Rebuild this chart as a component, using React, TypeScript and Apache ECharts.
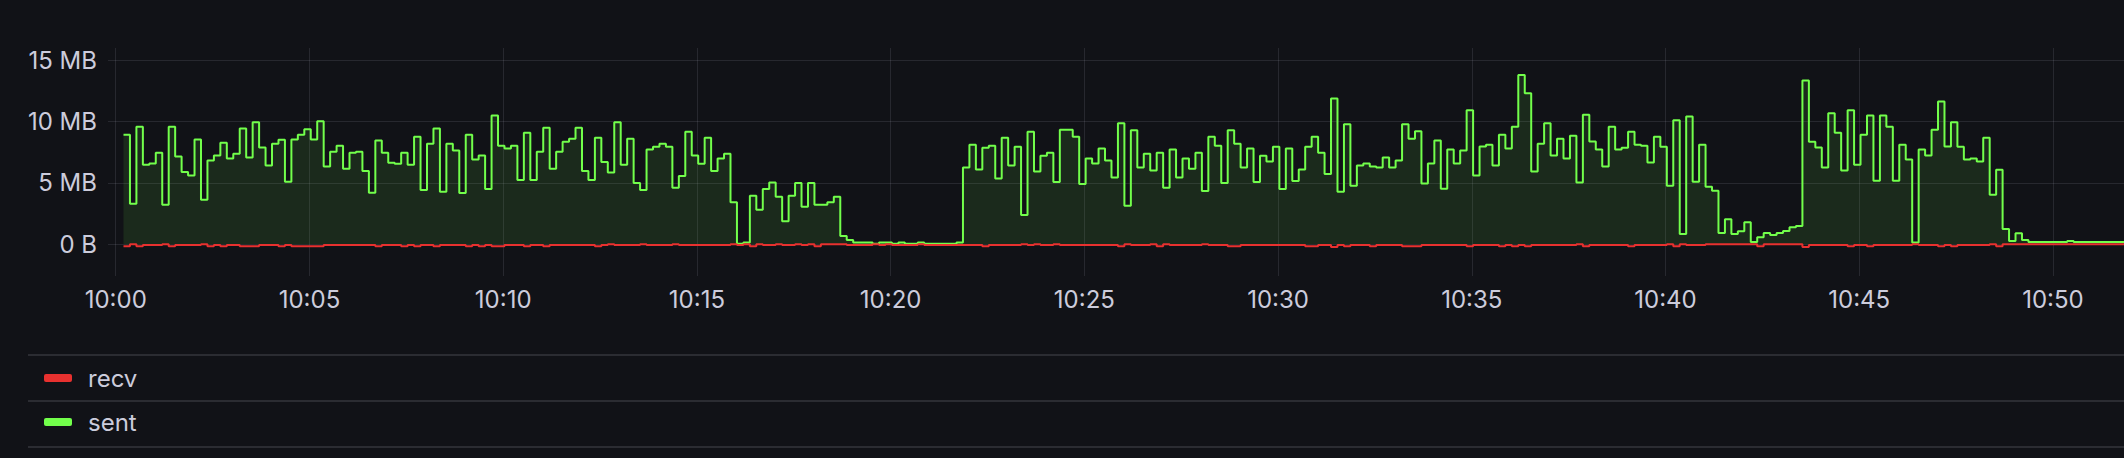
import { useEffect, useRef } from "react";
import * as echarts from "echarts";

// Samples every 10 s, the first one at 10:00:12 (seconds after 10:00:00)
const FIRST_SAMPLE_SECONDS = 12;
const SAMPLE_STEP_SECONDS = 10;

// sent, in MB
const sentValues: number[] = [
  8.93, 3.31, 9.59, 6.48, 6.58, 7.46, 3.22, 9.59, 7.16, 5.90,
  5.60, 8.55, 3.63, 6.83, 7.24, 8.28, 6.99, 7.38, 9.43, 7.08,
  9.95, 7.90, 6.42, 8.20, 8.52, 5.11, 8.55, 8.93, 9.37, 8.55,
  10.03, 6.34, 7.54, 8.03, 6.17, 7.46, 7.54, 5.98, 4.21, 8.47,
  7.46, 6.64, 6.56, 7.46, 6.48, 8.77, 4.43, 8.20, 9.43, 4.29,
  8.20, 7.65, 4.18, 8.93, 6.91, 7.24, 4.51, 10.49, 8.03, 7.81,
  8.03, 5.25, 9.10, 5.25, 7.54, 9.51, 6.15, 7.54, 8.36, 8.61,
  9.51, 5.98, 5.25, 8.69, 6.72, 5.85, 9.95, 6.48, 8.61, 5.00,
  4.43, 7.73, 7.95, 8.20, 7.95, 4.62, 5.57, 9.18, 7.24, 6.56,
  8.69, 5.98, 6.99, 7.38, 3.44, 0.05, 0.16, 3.96, 2.81, 4.51,
  5.03, 3.88, 1.89, 3.96, 5.00, 3.06, 5.00, 3.22, 3.22, 3.44,
  3.88, 0.68, 0.36, 0.14, 0.14, 0.14, 0.05, 0.14, 0.14, 0.05,
  0.14, 0.05, 0.05, 0.14, 0.05, 0.05, 0.05, 0.05, 0.05, 0.14,
  6.26, 8.11, 6.09, 7.87, 8.03, 5.36, 8.69, 6.42, 7.95, 2.40,
  9.18, 5.93, 7.21, 7.46, 5.08, 9.34, 9.34, 8.77, 4.92, 6.99,
  6.58, 7.81, 6.83, 5.44, 9.86, 3.14, 9.29, 6.26, 7.38, 6.01,
  7.46, 4.62, 7.73, 5.44, 6.99, 6.17, 7.46, 4.34, 8.77, 8.03,
  5.00, 9.29, 8.20, 6.26, 7.81, 5.08, 7.21, 6.75, 7.95, 4.51,
  7.81, 5.16, 6.09, 7.95, 8.77, 7.46, 5.74, 11.89, 4.29, 9.78,
  4.78, 6.42, 6.58, 6.34, 6.26, 7.08, 6.26, 6.83, 9.78, 8.61,
  9.21, 4.95, 6.58, 8.47, 4.54, 7.73, 6.58, 7.65, 10.93, 5.60,
  7.98, 8.11, 6.42, 8.93, 7.81, 9.59, 13.80, 12.32, 5.93, 8.20,
  9.86, 7.24, 8.61, 6.99, 8.85, 5.03, 10.57, 8.39, 7.73, 6.34,
  9.59, 7.73, 7.87, 9.18, 8.11, 8.03, 6.67, 8.77, 7.95, 4.78,
  10.11, 0.85, 10.41, 5.11, 8.11, 4.70, 4.37, 0.93, 2.05, 0.85,
  1.07, 1.80, 0.19, 0.57, 0.93, 0.77, 0.93, 1.09, 1.39, 1.50,
  13.36, 8.36, 7.90, 6.26, 10.68, 9.10, 6.01, 10.93, 6.48, 8.93,
  10.49, 5.19, 10.49, 9.59, 5.19, 8.11, 6.91, 0.16, 7.73, 7.24,
  9.34, 11.64, 7.98, 9.95, 7.95, 6.91, 6.99, 6.75, 8.69, 4.04,
  6.07, 1.26, 0.27, 0.90, 0.36, 0.19, 0.19, 0.19, 0.19, 0.19,
  0.19, 0.27, 0.19, 0.19, 0.19, 0.19, 0.19, 0.19, 0.19, 0.19,
  0.19, 0.19,
];

// recv, in MB (hugging zero)
const recvValues: number[] = [
  -0.15, 0.01, -0.15, -0.06, -0.06, -0.06, 0.01, -0.15, -0.06, -0.06,
  -0.06, -0.06, 0.01, -0.15, -0.06, -0.15, -0.06, -0.06, -0.15, -0.15,
  -0.15, -0.06, -0.06, -0.06, -0.15, -0.06, -0.15, -0.15, -0.15, -0.15,
  -0.15, -0.06, -0.06, -0.06, -0.06, -0.06, -0.06, -0.06, -0.06, -0.15,
  -0.06, -0.06, -0.06, -0.15, -0.06, -0.15, -0.06, -0.06, -0.15, -0.06,
  -0.06, -0.06, -0.06, -0.15, -0.06, -0.15, -0.06, -0.15, -0.15, -0.06,
  -0.06, -0.06, -0.15, -0.06, -0.06, -0.15, -0.06, -0.06, -0.06, -0.06,
  -0.06, -0.06, -0.06, -0.15, -0.06, 0.01, -0.06, -0.06, -0.06, -0.06,
  0.01, -0.06, -0.06, -0.06, -0.06, 0.01, -0.06, -0.06, -0.06, -0.06,
  -0.06, -0.06, -0.06, -0.06, 0.01, -0.06, 0.01, -0.15, 0.01, -0.06,
  -0.06, 0.01, -0.06, -0.06, 0.01, -0.06, 0.01, -0.15, 0.01, 0.01,
  0.01, 0.01, -0.06, -0.06, -0.06, -0.06, 0.01, -0.06, 0.01, -0.06,
  -0.06, -0.06, -0.06, 0.01, -0.06, -0.06, -0.06, -0.06, -0.06, -0.06,
  -0.06, -0.06, -0.06, -0.15, -0.06, -0.06, -0.06, -0.06, -0.06, 0.01,
  -0.06, 0.01, -0.06, -0.06, 0.01, -0.06, -0.06, -0.06, -0.06, -0.06,
  -0.06, -0.06, -0.06, -0.06, -0.15, 0.01, -0.06, -0.06, -0.06, 0.01,
  -0.15, 0.01, -0.06, -0.06, -0.06, -0.06, -0.06, 0.01, -0.06, -0.06,
  -0.06, -0.15, -0.15, -0.06, -0.06, -0.06, -0.06, -0.06, -0.06, -0.06,
  -0.06, -0.06, -0.06, -0.15, -0.15, -0.06, -0.06, -0.22, -0.06, -0.15,
  -0.06, -0.06, -0.06, -0.15, -0.06, -0.06, -0.06, -0.06, -0.15, -0.15,
  -0.15, -0.06, -0.06, -0.06, -0.06, -0.06, -0.06, -0.06, -0.15, -0.06,
  -0.06, -0.06, -0.06, -0.15, -0.06, -0.15, -0.06, -0.15, -0.06, -0.06,
  -0.06, -0.06, -0.06, -0.06, -0.06, 0.01, -0.15, -0.06, -0.06, -0.06,
  -0.06, -0.06, -0.06, -0.15, -0.06, -0.06, -0.06, -0.06, -0.06, 0.01,
  -0.15, 0.01, -0.06, -0.06, -0.06, 0.01, 0.01, 0.01, 0.01, 0.01,
  0.01, 0.01, 0.01, -0.15, 0.01, 0.01, 0.01, 0.01, 0.01, 0.01,
  -0.22, -0.06, -0.06, -0.06, -0.06, -0.06, -0.06, -0.15, -0.06, -0.06,
  -0.15, -0.06, -0.06, -0.06, -0.06, -0.06, -0.06, 0.01, -0.06, -0.06,
  -0.06, -0.15, -0.06, -0.15, -0.06, -0.06, -0.06, -0.06, -0.06, 0.01,
  -0.15, 0.01, 0.01, 0.01, 0.01, 0.01, 0.01, 0.01, 0.01, 0.01,
  0.01, 0.01, 0.01, 0.01, 0.01, 0.01, 0.01, 0.01, 0.01, 0.01,
  0.01, 0.01,
];

// Axis ticks
const xTickSeconds: number[] = [0, 300, 600, 900, 1200, 1500, 1800, 2100, 2400, 2700, 3000];
const xTickLabels: string[] = ["10:00", "10:05", "10:10", "10:15", "10:20", "10:25", "10:30", "10:35", "10:40", "10:45", "10:50"];
const yTickValues: number[] = [0, 5, 10, 15];
const yTickLabels: string[] = ["0 B", "5 MB", "10 MB", "15 MB"];

const seriesNames: string[] = ["recv", "sent"];

const BG = "#111217";
const TEXT = "#CCCCDC";
const GRID = "rgba(204,204,220,0.12)";
const SEP = "rgba(204,204,220,0.14)";
const GREEN = "#72FF4B";
const RED = "#E8312F";
const FONT = "Inter, 'Noto Sans', sans-serif";

export default function App() {
  const ref = useRef<HTMLDivElement>(null);

  useEffect(() => {
    if (!ref.current) return;
    const chart = echarts.init(ref.current, null, { renderer: "svg" });

    const toPairs = (vals: number[]) =>
      vals.map((v, i) => [FIRST_SAMPLE_SECONDS + i * SAMPLE_STEP_SECONDS, v]);

    chart.setOption({
      animation: false,
      backgroundColor: BG,
      textStyle: { fontFamily: FONT },
      grid: { left: 108, right: 0, top: 48, bottom: 182, outerBoundsMode: "none" },
      xAxis: {
        type: "value",
        min: -12,
        max: 3110,
        axisLine: { show: false },
        axisTick: { show: false, customValues: xTickSeconds },
        axisLabel: {
          customValues: xTickSeconds,
          color: TEXT,
          fontSize: 24,
          fontFamily: FONT,
          margin: 11,
          formatter: (v: number) => {
            const idx = xTickSeconds.indexOf(Math.round(v));
            return idx >= 0 ? xTickLabels[idx] : "";
          },
        },
        splitLine: { show: true, lineStyle: { color: GRID, width: 1 } },
      },
      yAxis: {
        type: "value",
        min: -2.58,
        max: 16,
        axisLine: { show: false },
        axisTick: { show: false, customValues: yTickValues },
        axisLabel: {
          customValues: yTickValues,
          color: TEXT,
          fontSize: 24,
          fontFamily: FONT,
          margin: 11,
          formatter: (v: number) => {
            const idx = yTickValues.indexOf(Math.round(v));
            return idx >= 0 ? yTickLabels[idx] : "";
          },
        },
        splitLine: { show: true, lineStyle: { color: GRID, width: 1 } },
      },
      legend: {
        data: seriesNames,
        orient: "vertical",
        left: 44,
        top: 366,
        padding: 0,
        itemWidth: 28,
        itemHeight: 8,
        itemGap: 20,
        icon: "roundRect",
        selectedMode: false,
        formatter: (name: string) => `{n|${name}}`,
        textStyle: {
          rich: {
            n: {
              color: TEXT,
              fontSize: 24,
              fontFamily: FONT,
              lineHeight: 30,
              padding: [0, 0, 0, 11],
            },
          },
        },
      },
      graphic: [
        { type: "line", shape: { x1: 28, y1: 355, x2: 2124, y2: 355 }, style: { stroke: SEP, lineWidth: 2 } },
        { type: "line", shape: { x1: 28, y1: 401, x2: 2124, y2: 401 }, style: { stroke: SEP, lineWidth: 2 } },
        { type: "line", shape: { x1: 28, y1: 447, x2: 2124, y2: 447 }, style: { stroke: SEP, lineWidth: 2 } },
      ],
      series: [
        {
          name: "sent",
          type: "line",
          step: "end",
          data: toPairs(sentValues),
          symbol: "none",
          showSymbol: false,
          color: GREEN,
          itemStyle: { color: GREEN },
          lineStyle: { color: GREEN, width: 2 },
          areaStyle: { color: GREEN, opacity: 0.1 },
          z: 2,
        },
        {
          name: "recv",
          type: "line",
          step: "end",
          data: toPairs(recvValues),
          symbol: "none",
          showSymbol: false,
          color: RED,
          itemStyle: { color: RED },
          lineStyle: { color: RED, width: 2 },
          z: 3,
        },
      ],
    });

    return () => chart.dispose();
  }, []);

  return (
    <div
      style={{ position: "fixed", left: 0, top: 0, width: 2124, height: 458, background: BG }}
    >
      <div ref={ref} style={{ width: 2124, height: 458 }} />
    </div>
  );
}
